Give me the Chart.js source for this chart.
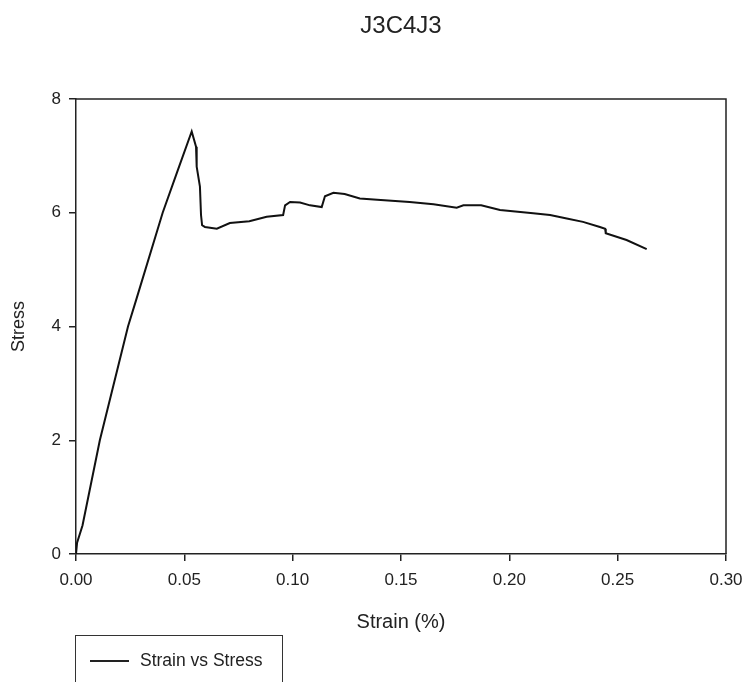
<!DOCTYPE html>
<html>
<head>
<meta charset="utf-8">
<script src="https://cdn.jsdelivr.net/npm/chart.js@4.4.1/dist/chart.umd.min.js"></script>
<style>
  html, body { margin: 0; padding: 0; background: #fff; }
  #wrap { position: relative; width: 745px; height: 682px; overflow: hidden; }
  #legend {
    position: absolute; left: 75px; top: 635px; width: 208px; height: 70px;
    border: 1.5px solid #333; box-sizing: border-box;
    font-family: Arial, "Liberation Sans", sans-serif; font-size: 17.5px; color: #222;
  }
  #legend .swatch { position: absolute; left: 14px; top: 24px; width: 39px; height: 0; border-top: 2px solid #222; }
  #legend .label { position: absolute; left: 64px; top: 14px; white-space: nowrap; }
</style>
</head>
<body>
<div id="wrap">
  <canvas id="chart" width="745" height="682"></canvas>
  <div id="legend"><span class="swatch"></span><span class="label"></span></div>
</div>
<script>
// data
const chartTitle = 'J3C4J3';
const seriesLabel = 'Strain vs Stress';
const strain = [0, 0.0005, 0.003, 0.011, 0.024, 0.0277, 0.040, 0.047, 0.0534,
  0.0554, 0.0557, 0.0572, 0.0577, 0.0582, 0.0595, 0.065, 0.071, 0.080, 0.088,
  0.0956, 0.0965, 0.0988, 0.1034, 0.108, 0.1134, 0.1149, 0.1188, 0.124, 0.131,
  0.139, 0.154, 0.165, 0.1757, 0.1788, 0.187, 0.1957, 0.211, 0.2188, 0.2265,
  0.234, 0.2418, 0.2442, 0.2445, 0.2541, 0.2634];
const stress = [0, 0.2, 0.5, 2.0, 4.0, 4.46, 6.0, 6.75, 7.43,
  7.16, 6.81, 6.46, 5.96, 5.78, 5.75, 5.72, 5.82, 5.85, 5.93,
  5.96, 6.13, 6.19, 6.18, 6.13, 6.10, 6.29, 6.35, 6.33, 6.25,
  6.23, 6.19, 6.15, 6.09, 6.13, 6.13, 6.05, 5.99, 5.96, 5.90,
  5.84, 5.75, 5.72, 5.64, 5.52, 5.36];
const xTicks = [0, 0.05, 0.10, 0.15, 0.20, 0.25, 0.30];
const yTicks = [0, 2, 4, 6, 8];

const points = strain.map((s, i) => ({ x: s, y: stress[i] }));

document.querySelector('#legend .label').textContent = seriesLabel;

// judul dan bingkai plot
const framePlugin = {
  id: 'frame',
  afterDraw(chart) {
    const { ctx, chartArea: a } = chart;
    ctx.save();
    ctx.strokeStyle = '#222';
    ctx.lineWidth = 1.5;
    ctx.beginPath();
    ctx.moveTo(a.left, a.top);
    ctx.lineTo(a.right, a.top);
    ctx.lineTo(a.right, a.bottom);
    ctx.stroke();
    ctx.fillStyle = '#222';
    ctx.font = '24px Arial, "Liberation Sans", sans-serif';
    ctx.textAlign = 'center';
    ctx.textBaseline = 'middle';
    ctx.fillText(chartTitle, (a.left + a.right) / 2, 26);
    ctx.restore();
  }
};

const font = { family: 'Arial, "Liberation Sans", sans-serif' };

new Chart(document.getElementById('chart'), {
  type: 'line',
  data: {
    datasets: [{
      label: seriesLabel,
      data: points,
      borderColor: '#111',
      borderWidth: 2,
      pointRadius: 0,
      tension: 0,
      fill: false
    }]
  },
  options: {
    responsive: false,
    animation: false,
    layout: { padding: { top: 99, right: 19, left: 0, bottom: 0 } },
    plugins: {
      legend: { display: false },
      title: { display: false },
      tooltip: { enabled: false }
    },
    scales: {
      x: {
        type: 'linear',
        min: 0,
        max: 0.3,
        afterFit: s => { s.height = 128; s.paddingLeft = 0; s.paddingRight = 0; },
        afterBuildTicks: s => { s.ticks = xTicks.map(v => ({ value: v })); },
        ticks: {
          color: '#222',
          font: { ...font, size: 17 },
          padding: 9,
          maxRotation: 0,
          callback: v => v.toFixed(2)
        },
        grid: { drawOnChartArea: false, drawTicks: true, tickLength: 7, color: '#222', lineWidth: 1.5 },
        border: { color: '#222', width: 1.5 },
        title: { display: true, text: 'Strain (%)', color: '#222', font: { ...font, size: 20 }, padding: { top: 0, bottom: 48 } }
      },
      y: {
        min: 0,
        max: 8,
        afterFit: s => { s.width = 76; s.paddingTop = 0; s.paddingBottom = 0; },
        afterBuildTicks: s => { s.ticks = yTicks.map(v => ({ value: v })); },
        ticks: {
          color: '#222',
          font: { ...font, size: 17 },
          padding: 8
        },
        grid: { drawOnChartArea: false, drawTicks: true, tickLength: 7, color: '#222', lineWidth: 1.5 },
        border: { color: '#222', width: 1.5 },
        title: { display: true, text: 'Stress', color: '#222', font: { ...font, size: 18 }, padding: { top: 8, bottom: 0 } }
      }
    }
  },
  plugins: [framePlugin]
});
</script>
</body>
</html>
